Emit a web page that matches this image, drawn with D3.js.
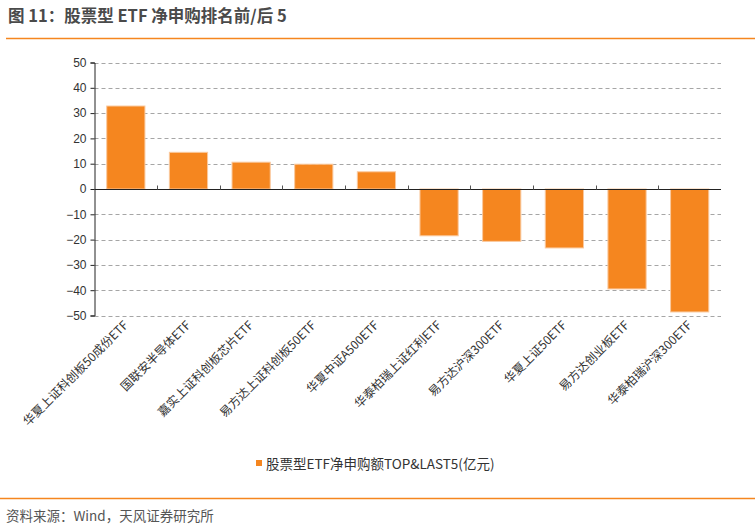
<!DOCTYPE html>
<html>
<head>
<meta charset="utf-8">
<script src="https://d3js.org/d3.v7.min.js"></script>
<style>
  body { margin: 0; background: #fff; }
  text { font-family: "Liberation Sans", Arial, "Noto Sans CJK SC", sans-serif; }
</style>
</head>
<body>
<script>
  let categories = ["华夏上证科创板50成份ETF", "国联安半导体ETF", "嘉实上证科创板芯片ETF", "易方达上证科创板50ETF",
                    "华夏中证A500ETF", "华泰柏瑞上证红利ETF", "易方达沪深300ETF", "华夏上证50ETF",
                    "易方达创业板ETF", "华泰柏瑞沪深300ETF"];
  let values = [32.8, 14.5, 10.6, 9.8, 6.8, -18.5, -20.7, -23.3, -39.5, -48.6];
  let yTicks = [50, 40, 30, 20, 10, 0, -10, -20, -30, -40, -50];
  let seriesName = "股票型ETF净申购额TOP&LAST5(亿元)";

  let width = 755, height = 528;
  let orange = "#F5861F";
  let cjk = "\"Noto Sans CJK SC\", sans-serif";

  let svg = d3.select("body").append("svg")
      .attr("width", width)
      .attr("height", height);

  // title + rules
  svg.append("text")
      .attr("x", 8).attr("y", 22)
      .attr("font-size", 16.5).attr("font-weight", "bold")
      .attr("fill", "#4a4a4a")
      .style("font-family", cjk)
      .text("图 11：股票型 ETF 净申购排名前/后 5");
  svg.append("line").attr("x1", 6).attr("x2", width).attr("y1", 38.5).attr("y2", 38.5)
      .attr("stroke", orange).attr("stroke-width", 1.5);
  svg.append("line").attr("x1", 0).attr("x2", width).attr("y1", 498.5).attr("y2", 498.5)
      .attr("stroke", orange).attr("stroke-width", 1.5);
  svg.append("text")
      .attr("x", 6).attr("y", 521)
      .attr("font-size", 13.5).attr("fill", "#555")
      .style("font-family", cjk)
      .text("资料来源：Wind，天风证券研究所");

  let x = d3.scaleBand()
      .domain(categories)
      .range([94.5, 721])
      .paddingInner(0.39)
      .paddingOuter(0.195);

  let y = d3.scaleLinear()
      .domain([-50, 50])
      .range([315.5, 62.5]);

  // grid
  svg.append("g")
      .selectAll("line")
      .data(yTicks.filter(d => d !== 0))
      .join("line")
      .attr("x1", 94.5).attr("x2", 721)
      .attr("y1", d => Math.round(y(d)) + 0.5).attr("y2", d => Math.round(y(d)) + 0.5)
      .attr("stroke", "#a6a6a6").attr("stroke-dasharray", "4,3");

  // bars
  svg.append("g")
      .selectAll("rect")
      .data(values)
      .join("rect")
      .attr("x", (d, i) => x(categories[i]))
      .attr("width", x.bandwidth())
      .attr("y", d => y(Math.max(0, d)))
      .attr("height", d => Math.abs(y(d) - y(0)))
      .attr("fill", orange)
      .attr("stroke", "#FAC99E").attr("stroke-width", 1);

  // y axis
  let yAxis = svg.append("g")
      .attr("transform", "translate(94.5,0)")
      .call(d3.axisLeft(y).tickValues(yTicks).tickSize(4).tickPadding(4).tickFormat(d3.format("d")));
  yAxis.select(".domain").attr("stroke", "#222");
  yAxis.selectAll(".tick line").attr("stroke", "#222");
  yAxis.selectAll("text").attr("font-size", 12).attr("fill", "#333")
      .style("font-family", "\"Liberation Sans\", Arial, sans-serif");

  // zero line with boundary ticks
  let zeroY = Math.round(y(0)) + 0.5;
  svg.append("line").attr("x1", 94.5).attr("x2", 721).attr("y1", zeroY).attr("y2", zeroY)
      .attr("stroke", "#222").attr("stroke-width", 1.2);
  svg.append("g")
      .selectAll("line")
      .data(categories.slice(1))
      .join("line")
      .attr("x1", d => Math.round(x(d) - x.step() * x.paddingInner() / 2) + 0.5)
      .attr("x2", d => Math.round(x(d) - x.step() * x.paddingInner() / 2) + 0.5)
      .attr("y1", zeroY).attr("y2", zeroY - 4)
      .attr("stroke", "#555");

  // category labels
  svg.append("g")
      .selectAll("text")
      .data(categories)
      .join("text")
      .attr("transform", d => "translate(" + (x(d) + x.bandwidth() / 2 + 3) + ",326) rotate(-45)")
      .attr("text-anchor", "end")
      .attr("font-size", 12)
      .attr("fill", "#333")
      .style("font-family", cjk)
      .text(d => d);

  // legend
  svg.append("rect").attr("x", 256).attr("y", 460).attr("width", 6).attr("height", 6).attr("fill", orange);
  svg.append("text")
      .attr("x", 266).attr("y", 469)
      .attr("font-size", 13.5).attr("fill", "#333")
      .style("font-family", cjk)
      .text(seriesName);
</script>
</body>
</html>
